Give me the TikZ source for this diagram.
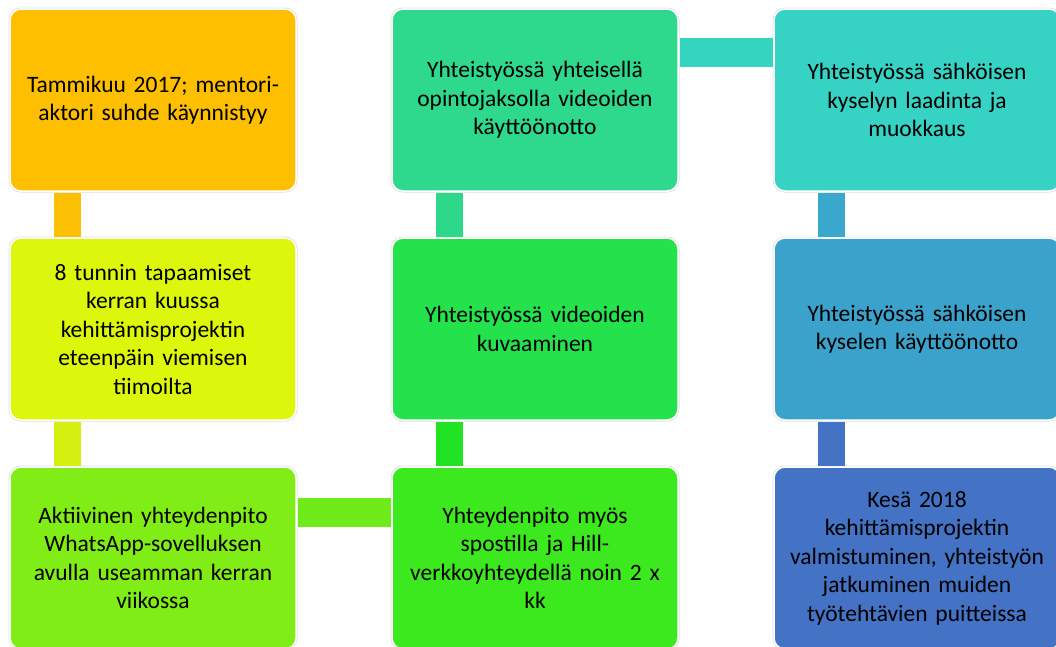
\documentclass[tikz,border=0pt]{standalone}
\usepackage{fontspec}
\setmainfont{Carlito}
\definecolor{cA}{HTML}{FDBF00}
\definecolor{kA}{HTML}{FBC004}
\definecolor{cB}{HTML}{DCF70C}
\definecolor{kB}{HTML}{D3F010}
\definecolor{cC}{HTML}{80EE16}
\definecolor{kC}{HTML}{6EEB18}
\definecolor{cD}{HTML}{3CE81E}
\definecolor{kD}{HTML}{22E323}
\definecolor{cE}{HTML}{24E24C}
\definecolor{kE}{HTML}{2DD88B}
\definecolor{cF}{HTML}{2ED98D}
\definecolor{kF}{HTML}{34D4BE}
\definecolor{cG}{HTML}{36D3C5}
\definecolor{kG}{HTML}{3AA8CD}
\definecolor{cH}{HTML}{3BA3CB}
\definecolor{kH}{HTML}{4472C4}
\definecolor{cI}{HTML}{4472C4}
\tikzset{
  box/.style={rectangle, rounded corners=11pt, minimum width=286pt, minimum height=182pt,
    text width=276pt, align=center, outer sep=0pt, inner sep=0pt,
    draw=white, line width=1.5pt,
    preaction={draw=black!12, line width=3pt},
    font=\fontsize{23.5}{28.5}\selectfont, text=black},
  vconn/.style={line width=27pt},
  hconn/.style={line width=29pt},
}
\begin{document}
\begin{tikzpicture}[x=1pt,y=-1pt]
\useasboundingbox[fill=white] (0,0) rectangle (1056,646);
\node[box, fill=cA] (b1) at (153,100) {Tammikuu 2017; mentori-\\aktori suhde käynnistyy};
\node[box, fill=cB] (b2) at (153,329) {8 tunnin tapaamiset\\kerran kuussa\\kehittämisprojektin\\eteenpäin viemisen\\tiimoilta};
\node[box, fill=cC] (b3) at (153,558) {Aktiivinen yhteydenpito\\WhatsApp-sovelluksen\\avulla useamman kerran\\viikossa};
\node[box, fill=cD] (b4) at (535,558) {Yhteydenpito myös\\spostilla ja Hill-\\verkkoyhteydellä noin 2 x\\kk};
\node[box, fill=cE] (b5) at (535,329) {Yhteistyössä videoiden\\kuvaaminen};
\node[box, fill=cF] (b6) at (535,100) {Yhteistyössä yhteisellä\\opintojaksolla videoiden\\käyttöönotto};
\node[box, fill=cG] (b7) at (917,100) {Yhteistyössä sähköisen\\kyselyn laadinta ja\\muokkaus};
\node[box, fill=cH] (b8) at (917,329) {Yhteistyössä sähköisen\\kyselen käyttöönotto};
\node[box, fill=cI] (b9) at (917,558) {Kesä 2018\\kehittämisprojektin\\valmistuminen, yhteistyön\\jatkuminen muiden\\työtehtävien puitteissa};
\draw[vconn, kA] ([xshift=57.5,yshift=-1.5]b1.south west) -- ([xshift=57.5,yshift=1.5]b2.north west);
\draw[vconn, kB] ([xshift=57.5,yshift=-1.5]b2.south west) -- ([xshift=57.5,yshift=1.5]b3.north west);
\draw[hconn, kC] ([xshift=1.5,yshift=-45]b3.north east) -- ([xshift=-1.5,yshift=-45]b4.north west);
\draw[vconn, kD] ([xshift=57.5,yshift=1.5]b4.north west) -- ([xshift=57.5,yshift=-1.5]b5.south west);
\draw[vconn, kE] ([xshift=57.5,yshift=1.5]b5.north west) -- ([xshift=57.5,yshift=-1.5]b6.south west);
\draw[hconn, kF] ([xshift=1.5,yshift=-43.5]b6.north east) -- ([xshift=-1.5,yshift=-43.5]b7.north west);
\draw[vconn, kG] ([xshift=57.5,yshift=-1.5]b7.south west) -- ([xshift=57.5,yshift=1.5]b8.north west);
\draw[vconn, kH] ([xshift=57.5,yshift=-1.5]b8.south west) -- ([xshift=57.5,yshift=1.5]b9.north west);
\end{tikzpicture}
\end{document}
